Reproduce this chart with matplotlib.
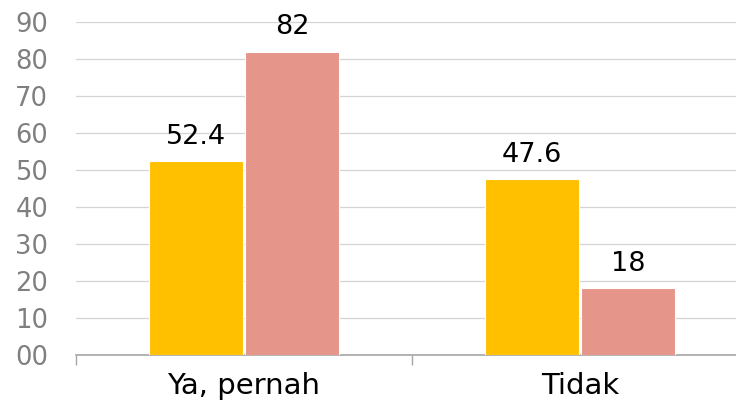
import matplotlib
matplotlib.use("Agg")
import matplotlib.pyplot as plt
import numpy as np

categories = ["Ya, pernah", "Tidak"]
series_a = [52.4, 47.6]
series_b = [82, 18]
yticks = [0, 10, 20, 30, 40, 50, 60, 70, 80, 90]

plt.rcParams['font.family'] = ['DejaVu Sans']
fig = plt.figure(figsize=(7.36, 4.12), dpi=100)
ax = fig.add_axes([76/736, 57/412, 672/736, 333/412])

x = np.arange(len(categories))
w = 0.28
ba = ax.bar(x - w/2 - 0.003, series_a, w, color="#FFC000", edgecolor="white", linewidth=0.8, zorder=3)
bb = ax.bar(x + w/2 + 0.003, series_b, w, color="#E6958A", edgecolor="white", linewidth=0.8, zorder=3)

def fmt(v):
    return str(int(v)) if float(v).is_integer() else f"{v}"

for bars, vals in ((ba, series_a), (bb, series_b)):
    for r, v in zip(bars, vals):
        ax.annotate(fmt(v), (r.get_x() + r.get_width()/2, r.get_height()),
                    xytext=(0, 8), textcoords="offset points", ha="center", va="bottom",
                    fontsize=19.5, color="black")

ax.set_xlim(-0.5, 1.5)
ax.set_ylim(0, 90)
ax.set_yticks(yticks)
ax.set_yticklabels([f"{t:02d}" for t in yticks], fontsize=18.5, color="#7F7F7F")
ax.tick_params(axis="y", length=0, pad=20)
ax.set_xticks([-0.5, 0.5, 1.5])
ax.set_xticklabels([])
ax.set_xticks(x, minor=True)
ax.set_xticklabels(categories, minor=True, fontsize=21, color="black")
ax.tick_params(axis="x", which="major", length=7, color="#A6A6A6", width=1)
ax.tick_params(axis="x", which="minor", length=0, pad=12)
ax.grid(axis="y", color="#D4D4D4", linewidth=0.9, zorder=0)
for s in ("top", "right", "left"):
    ax.spines[s].set_visible(False)
ax.spines["bottom"].set_color("#A6A6A6")
ax.spines["bottom"].set_linewidth(1.2)

fig.savefig("out.png", dpi=100)
